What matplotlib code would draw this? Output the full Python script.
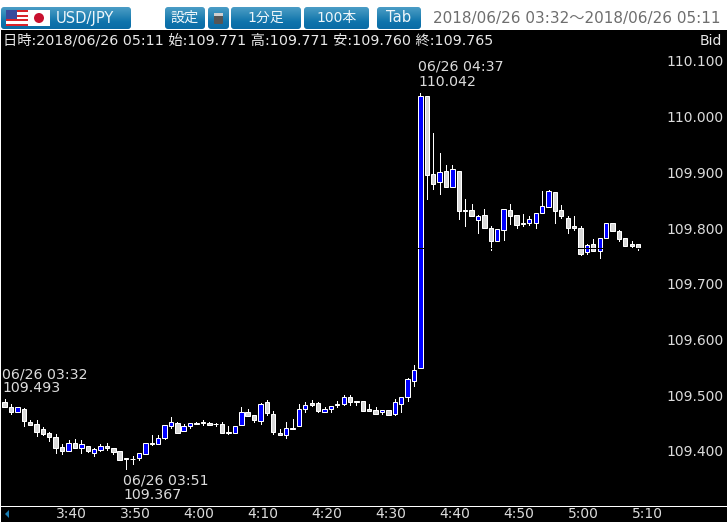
"""USD/JPY one minute candle chart"""
import numpy as np
import matplotlib
matplotlib.use("Agg")
import matplotlib.pyplot as plt
from matplotlib.patches import FancyBboxPatch, Rectangle, Circle, Polygon

plt.rcParams['font.family'] = ['DejaVu Sans', 'Noto Sans CJK JP']

open_px = [109.487, 109.479, 109.470, 109.476, 109.452, 109.448, 109.439, 109.432, 109.425, 109.407,
           109.400, 109.414, 109.406, 109.408, 109.397, 109.401, 109.408, 109.405, 109.399, 109.387,
           109.386, 109.388, 109.395, 109.414, 109.413, 109.423, 109.445, 109.450, 109.435, 109.444,
           109.450, 109.452, 109.450, 109.448, 109.448, 109.434, 109.433, 109.447, 109.470, 109.464,
           109.454, 109.488, 109.466, 109.432, 109.429, 109.442, 109.444, 109.476, 109.486, 109.486,
           109.470, 109.476, 109.484, 109.485, 109.497, 109.489, 109.489, 109.475, 109.473, 109.469,
           109.473, 109.466, 109.485, 109.496, 109.526, 109.548, 110.037, 109.898, 109.882, 109.903,
           109.873, 109.902, 109.832, 109.832, 109.815, 109.823, 109.801, 109.776, 109.796, 109.832,
           109.823, 109.807, 109.810, 109.810, 109.828, 109.837, 109.864, 109.832, 109.819, 109.803,
           109.801, 109.757, 109.771, 109.758, 109.783, 109.809, 109.794, 109.782, 109.771, 109.771]
high_px = [109.493, 109.485, 109.479, 109.477, 109.455, 109.455, 109.443, 109.434, 109.430, 109.412,
           109.420, 109.421, 109.419, 109.409, 109.405, 109.412, 109.414, 109.406, 109.400, 109.388,
           109.390, 109.396, 109.415, 109.429, 109.429, 109.446, 109.460, 109.451, 109.448, 109.450,
           109.452, 109.456, 109.451, 109.450, 109.451, 109.444, 109.445, 109.478, 109.476, 109.465,
           109.486, 109.491, 109.472, 109.439, 109.451, 109.457, 109.485, 109.487, 109.491, 109.487,
           109.479, 109.481, 109.490, 109.500, 109.500, 109.490, 109.490, 109.484, 109.478, 109.473,
           109.473, 109.494, 109.497, 109.530, 109.555, 110.042, 110.037, 109.970, 109.934, 109.913,
           109.914, 109.903, 109.852, 109.844, 109.823, 109.834, 109.803, 109.798, 109.835, 109.843,
           109.823, 109.825, 109.822, 109.827, 109.866, 109.868, 109.864, 109.841, 109.821, 109.821,
           109.803, 109.771, 109.780, 109.783, 109.809, 109.809, 109.796, 109.782, 109.776, 109.771]
low_px = [109.479, 109.466, 109.470, 109.445, 109.447, 109.426, 109.428, 109.417, 109.397, 109.394,
          109.400, 109.405, 109.397, 109.398, 109.390, 109.400, 109.402, 109.395, 109.383, 109.367,
          109.377, 109.384, 109.395, 109.411, 109.412, 109.421, 109.442, 109.432, 109.435, 109.442,
          109.448, 109.447, 109.447, 109.445, 109.433, 109.431, 109.433, 109.447, 109.463, 109.451,
          109.448, 109.465, 109.431, 109.429, 109.424, 109.440, 109.444, 109.469, 109.481, 109.470,
          109.470, 109.469, 109.478, 109.483, 109.483, 109.482, 109.472, 109.472, 109.466, 109.467,
          109.464, 109.464, 109.469, 109.490, 109.517, 109.548, 109.852, 109.870, 109.862, 109.873,
          109.873, 109.816, 109.804, 109.822, 109.791, 109.800, 109.761, 109.776, 109.779, 109.807,
          109.801, 109.804, 109.806, 109.801, 109.828, 109.837, 109.810, 109.819, 109.792, 109.797,
          109.752, 109.754, 109.758, 109.747, 109.783, 109.794, 109.776, 109.768, 109.765, 109.760]
close_px = [109.479, 109.469, 109.478, 109.454, 109.447, 109.434, 109.430, 109.425, 109.406, 109.400,
            109.414, 109.406, 109.412, 109.399, 109.403, 109.408, 109.406, 109.398, 109.384, 109.386,
            109.385, 109.396, 109.414, 109.412, 109.424, 109.446, 109.451, 109.433, 109.444, 109.450,
            109.449, 109.450, 109.447, 109.448, 109.433, 109.433, 109.444, 109.469, 109.463, 109.456,
            109.485, 109.468, 109.434, 109.429, 109.442, 109.440, 109.475, 109.482, 109.482, 109.472,
            109.476, 109.480, 109.483, 109.496, 109.488, 109.488, 109.472, 109.472, 109.467, 109.473,
            109.465, 109.487, 109.496, 109.529, 109.546, 110.037, 109.896, 109.880, 109.900, 109.873,
            109.906, 109.830, 109.831, 109.822, 109.821, 109.801, 109.776, 109.798, 109.834, 109.822,
            109.806, 109.810, 109.816, 109.827, 109.839, 109.866, 109.830, 109.821, 109.801, 109.801,
            109.754, 109.769, 109.758, 109.783, 109.809, 109.794, 109.781, 109.768, 109.768, 109.765]

price_ticks = [109.4, 109.5, 109.6, 109.7, 109.8, 109.9, 110.0, 110.1]
time_idx = [8, 18, 28, 38, 48, 58, 68, 78, 88, 98]
time_labels = ["3:40", "3:50", "4:00", "4:10", "4:20", "4:30", "4:40", "4:50", "5:00", "5:10"]

TEXT_COL = "#dcdcdc"
PX = 0.72  # one pixel in points at dpi 100
W, H = 728, 522

fig = plt.figure(figsize=[W / 100, H / 100], dpi=100, facecolor="white")

# chart area reaches the bottom edge, the time labels sit inside it
ax = fig.add_axes([1 / W, 0, 726 / W, (H - 30) / H], facecolor="black", zorder=1)
ax.set_xlim((1 - 4.5) / 6.4, (727 - 4.5) / 6.4)
ax.set_ylim(110.1 - 461 / 557, 110.1 + 31 / 557)
for side in ax.spines.values():
    side.set_visible(False)

x = np.arange(len(open_px))
o, h, l, c = map(np.array, (open_px, high_px, low_px, close_px))
up = c > o
body_low = np.minimum(o, c)
body_h = np.abs(c - o)

ax.vlines(x, l, h, color="white", lw=PX, zorder=2, antialiased=False)
ax.bar(x[~up], body_h[~up], 4.4 / 6.4, bottom=body_low[~up], color="#d9d9d9",
       edgecolor="white", linewidth=PX, zorder=3)
ax.bar(x[up], body_h[up], 4.4 / 6.4, bottom=body_low[up], color="#0000ff",
       edgecolor="white", linewidth=PX, zorder=3)
# current price line, only visible where it crosses the candles
ax.axhline(close_px[-1], color="black", lw=PX, zorder=4)

ax.set_yticks(price_ticks)
ax.set_yticklabels(["%.3f" % p for p in price_ticks])
ax.yaxis.tick_right()
ax.tick_params(axis="y", length=0, pad=-43.5, labelsize=10, labelcolor=TEXT_COL)
ax.set_xticks(time_idx)
ax.set_xticklabels(time_labels, ha="left")
ax.tick_params(axis="x", length=0, pad=-11, labelsize=10, labelcolor=TEXT_COL)

# overlay in pixel coordinates for the toolbar and the text
ui = fig.add_axes([0, 0, 1, 1], zorder=2)
ui.patch.set_alpha(0)
ui.axis("off")

gradient = np.linspace(0, 1, 32).reshape(-1, 1)
btn_cmap = matplotlib.colors.LinearSegmentedColormap.from_list(
    "btn", ["#4a9cc6", "#2f8ab8", "#0f74ac", "#0a6ca6"])


def button(x0, x1, label, **kw):
    """toolbar button with a vertical gradient"""
    box = FancyBboxPatch((x0 + 3, 10), x1 - x0 - 6, 16, boxstyle="round,pad=3",
                         fc="none", ec="none", transform=ui.transData)
    ui.add_patch(box)
    img = ui.imshow(gradient, cmap=btn_cmap, extent=(x0, x1, 29, 7), aspect="auto", zorder=1)
    img.set_clip_path(box)
    if label:
        ui.text((x0 + x1) / 2 + kw.get("dx", 0), 18, label, color="#eef6fa", ha="center",
                va="center", fontsize=kw.get("size", 10), zorder=3)


button(1, 131, "USD/JPY", dx=19, size=10.6)
button(165, 205, "設定", size=10.2)
button(208, 229, "")
button(231, 301, "1分足")
button(304, 369, "100本")
button(377, 421, "Tab", size=10.6)

# settings icon
ui.add_patch(FancyBboxPatch((215, 14), 7, 9, boxstyle="round,pad=1", fc="#555555", ec="none", zorder=2))
ui.add_patch(Rectangle((214, 13), 9, 3, fc="#cfcfcf", ec="none", zorder=3))

# flags
ui.add_patch(Rectangle((6, 10), 22, 16, fc="white", ec="none", zorder=2))
for stripe in range(0, 7, 2):
    ui.add_patch(Rectangle((6, 10 + stripe * 16 / 7), 22, 16 / 7, fc="#d8232a", ec="none", zorder=3))
ui.add_patch(Rectangle((6, 10), 11, 9, fc="#3a4a9c", ec="none", zorder=4))
ui.add_patch(Rectangle((28, 10), 22, 16, fc="white", ec="none", zorder=2))
ui.add_patch(Circle((39, 18), 5, fc="#c8102e", ec="none", zorder=3))

ui.text(433, 18, "2018/06/26 03:32～2018/06/26 05:11", color="#6e6e6e", ha="left",
        va="center", fontsize=11)
ui.text(3, 41, "日時:2018/06/26 05:11 始:109.771 高:109.771 安:109.760 終:109.765",
        color="#e8e8e8", ha="left", va="center", fontsize=10.25)
ui.text(722, 41, "Bid", color="#e8e8e8", ha="right", va="center", fontsize=10)

# high and low markers
ui.text(2, 374, "06/26 03:32", color=TEXT_COL, ha="left", va="center", fontsize=10.2)
ui.text(2, 388, "109.493", color=TEXT_COL, ha="left", va="center", fontsize=10.2)
ui.text(123, 481, "06/26 03:51", color=TEXT_COL, ha="left", va="center", fontsize=10.2)
ui.text(123, 495, "109.367", color=TEXT_COL, ha="left", va="center", fontsize=10.2)
ui.text(418, 67, "06/26 04:37", color=TEXT_COL, ha="left", va="center", fontsize=10.2)
ui.text(418, 82, "110.042", color=TEXT_COL, ha="left", va="center", fontsize=10.2)

ui.plot([1, 727], [505.5, 505.5], color="white", lw=PX, zorder=5)
ui.add_patch(Polygon([(5, 514), (9, 510), (9, 518)], fc="#1a7fb5", ec="none", zorder=5))

ui.set_xlim(0, W)
ui.set_ylim(H, 0)

fig.savefig("out.png", dpi=100, facecolor="white")
